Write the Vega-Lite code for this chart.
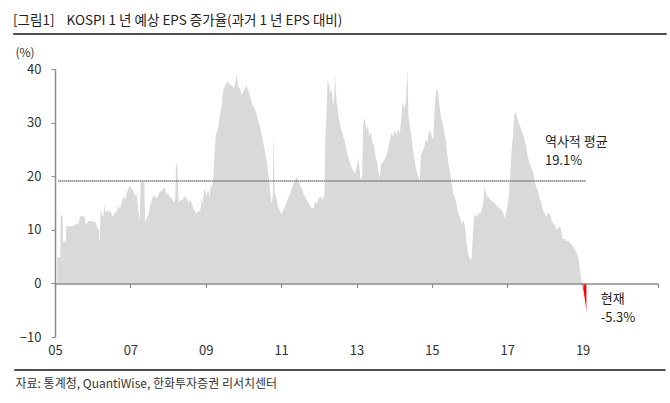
{
"$schema": "https://vega.github.io/schema/vega-lite/v6.json",
"width": 603, "height": 268,
"autosize": {"type": "none"},
"padding": {"left": 55, "top": 69, "right": 12, "bottom": 66},
"background": "white",
"config": {"view": {"stroke": null}, "font": "Noto Sans CJK KR"},
"title": {"text": "[그림1]\u00a0\u00a0\u00a0\u00a0KOSPI 1 년 예상 EPS 증가율(과거 1 년 EPS 대비)", "anchor": "start", "frame": "group", "dx": -42, "dy": -2, "fontSize": 13.5, "fontWeight": "normal", "color": "#222", "font": "Noto Sans CJK KR"},
"layer": [
{"data": {"values": [
{"t":2005.06,"v":4.9,"s":"a"},{"t":2005.14,"v":4.9,"s":"a"},{"t":2005.15,"v":12.8,"s":"a"},{"t":2005.2,"v":12.6,"s":"a"},{"t":2005.21,"v":7.7,"s":"a"},{"t":2005.29,"v":7.8,"s":"a"},{"t":2005.3,"v":10.7,"s":"a"},{"t":2005.4,"v":10.6,"s":"a"},{"t":2005.52,"v":10.8,"s":"a"},{"t":2005.55,"v":11.1,"s":"a"},{"t":2005.63,"v":11.2,"s":"a"},{"t":2005.66,"v":12.4,"s":"a"},{"t":2005.72,"v":12.6,"s":"a"},{"t":2005.79,"v":12.3,"s":"a"},{"t":2005.81,"v":11.1,"s":"a"},{"t":2005.87,"v":11.4,"s":"a"},{"t":2005.9,"v":11.7,"s":"a"},{"t":2006.0,"v":11.6,"s":"a"},{"t":2006.07,"v":11.5,"s":"a"},{"t":2006.11,"v":10.6,"s":"a"},{"t":2006.17,"v":9.8,"s":"a"},{"t":2006.19,"v":7.4,"s":"a"},{"t":2006.21,"v":13.8,"s":"a"},{"t":2006.25,"v":12.8,"s":"a"},{"t":2006.28,"v":12.2,"s":"a"},{"t":2006.31,"v":14.8,"s":"a"},{"t":2006.33,"v":13.5,"s":"a"},{"t":2006.36,"v":13.2,"s":"a"},{"t":2006.39,"v":13.9,"s":"a"},{"t":2006.42,"v":13.2,"s":"a"},{"t":2006.46,"v":13.7,"s":"a"},{"t":2006.5,"v":12.9,"s":"a"},{"t":2006.55,"v":12.5,"s":"a"},{"t":2006.59,"v":13.4,"s":"a"},{"t":2006.63,"v":13.2,"s":"a"},{"t":2006.68,"v":14.4,"s":"a"},{"t":2006.72,"v":13.9,"s":"a"},{"t":2006.77,"v":15.2,"s":"a"},{"t":2006.82,"v":16.3,"s":"a"},{"t":2006.86,"v":15.6,"s":"a"},{"t":2006.9,"v":16.8,"s":"a"},{"t":2006.95,"v":17.7,"s":"a"},{"t":2007.0,"v":18.2,"s":"a"},{"t":2007.04,"v":17.6,"s":"a"},{"t":2007.08,"v":17.2,"s":"a"},{"t":2007.12,"v":16.4,"s":"a"},{"t":2007.17,"v":16.6,"s":"a"},{"t":2007.21,"v":13.5,"s":"a"},{"t":2007.25,"v":11.8,"s":"a"},{"t":2007.27,"v":18.9,"s":"a"},{"t":2007.37,"v":18.9,"s":"a"},{"t":2007.39,"v":11.5,"s":"a"},{"t":2007.43,"v":12.2,"s":"a"},{"t":2007.48,"v":12.8,"s":"a"},{"t":2007.52,"v":14.3,"s":"a"},{"t":2007.56,"v":15.4,"s":"a"},{"t":2007.6,"v":16.3,"s":"a"},{"t":2007.65,"v":16.2,"s":"a"},{"t":2007.7,"v":15.8,"s":"a"},{"t":2007.74,"v":16.5,"s":"a"},{"t":2007.79,"v":17.3,"s":"a"},{"t":2007.83,"v":17.1,"s":"a"},{"t":2007.88,"v":17.9,"s":"a"},{"t":2007.92,"v":17.7,"s":"a"},{"t":2007.96,"v":16.6,"s":"a"},{"t":2008.01,"v":16.8,"s":"a"},{"t":2008.05,"v":15.9,"s":"a"},{"t":2008.09,"v":16.1,"s":"a"},{"t":2008.14,"v":15.2,"s":"a"},{"t":2008.19,"v":15.4,"s":"a"},{"t":2008.21,"v":22.4,"s":"a"},{"t":2008.25,"v":21.8,"s":"a"},{"t":2008.28,"v":15.3,"s":"a"},{"t":2008.33,"v":15.5,"s":"a"},{"t":2008.38,"v":15.6,"s":"a"},{"t":2008.43,"v":16.2,"s":"a"},{"t":2008.49,"v":15.9,"s":"a"},{"t":2008.55,"v":15.0,"s":"a"},{"t":2008.6,"v":15.6,"s":"a"},{"t":2008.65,"v":14.4,"s":"a"},{"t":2008.7,"v":13.6,"s":"a"},{"t":2008.76,"v":13.0,"s":"a"},{"t":2008.8,"v":13.5,"s":"a"},{"t":2008.85,"v":13.4,"s":"a"},{"t":2008.89,"v":15.6,"s":"a"},{"t":2008.92,"v":14.8,"s":"a"},{"t":2008.95,"v":17.2,"s":"a"},{"t":2008.98,"v":17.7,"s":"a"},{"t":2009.02,"v":16.3,"s":"a"},{"t":2009.06,"v":17.5,"s":"a"},{"t":2009.1,"v":16.2,"s":"a"},{"t":2009.14,"v":18.6,"s":"a"},{"t":2009.17,"v":17.8,"s":"a"},{"t":2009.2,"v":19.4,"s":"a"},{"t":2009.23,"v":23.8,"s":"a"},{"t":2009.27,"v":27.9,"s":"a"},{"t":2009.3,"v":28.2,"s":"a"},{"t":2009.33,"v":29.0,"s":"a"},{"t":2009.37,"v":31.2,"s":"a"},{"t":2009.42,"v":33.1,"s":"a"},{"t":2009.46,"v":35.9,"s":"a"},{"t":2009.5,"v":36.7,"s":"a"},{"t":2009.55,"v":37.4,"s":"a"},{"t":2009.6,"v":37.6,"s":"a"},{"t":2009.64,"v":36.9,"s":"a"},{"t":2009.69,"v":37.1,"s":"a"},{"t":2009.74,"v":36.4,"s":"a"},{"t":2009.78,"v":37.3,"s":"a"},{"t":2009.82,"v":38.9,"s":"a"},{"t":2009.86,"v":36.8,"s":"a"},{"t":2009.91,"v":36.2,"s":"a"},{"t":2009.95,"v":35.1,"s":"a"},{"t":2010.0,"v":35.8,"s":"a"},{"t":2010.04,"v":36.3,"s":"a"},{"t":2010.08,"v":36.9,"s":"a"},{"t":2010.13,"v":36.0,"s":"a"},{"t":2010.17,"v":35.0,"s":"a"},{"t":2010.22,"v":33.8,"s":"a"},{"t":2010.26,"v":33.0,"s":"a"},{"t":2010.31,"v":32.5,"s":"a"},{"t":2010.35,"v":31.5,"s":"a"},{"t":2010.4,"v":30.1,"s":"a"},{"t":2010.44,"v":29.3,"s":"a"},{"t":2010.49,"v":27.5,"s":"a"},{"t":2010.53,"v":26.1,"s":"a"},{"t":2010.58,"v":24.3,"s":"a"},{"t":2010.62,"v":22.8,"s":"a"},{"t":2010.66,"v":20.5,"s":"a"},{"t":2010.7,"v":18.0,"s":"a"},{"t":2010.74,"v":15.0,"s":"a"},{"t":2010.78,"v":16.0,"s":"a"},{"t":2010.8,"v":28.3,"s":"a"},{"t":2010.83,"v":17.0,"s":"a"},{"t":2010.87,"v":16.0,"s":"a"},{"t":2010.92,"v":14.3,"s":"a"},{"t":2010.96,"v":13.7,"s":"a"},{"t":2011.01,"v":12.9,"s":"a"},{"t":2011.05,"v":13.6,"s":"a"},{"t":2011.1,"v":14.3,"s":"a"},{"t":2011.15,"v":15.2,"s":"a"},{"t":2011.2,"v":16.2,"s":"a"},{"t":2011.25,"v":17.0,"s":"a"},{"t":2011.3,"v":18.1,"s":"a"},{"t":2011.36,"v":19.0,"s":"a"},{"t":2011.41,"v":19.9,"s":"a"},{"t":2011.46,"v":19.1,"s":"a"},{"t":2011.5,"v":18.3,"s":"a"},{"t":2011.55,"v":17.6,"s":"a"},{"t":2011.6,"v":16.7,"s":"a"},{"t":2011.65,"v":15.9,"s":"a"},{"t":2011.7,"v":15.3,"s":"a"},{"t":2011.76,"v":14.6,"s":"a"},{"t":2011.81,"v":14.0,"s":"a"},{"t":2011.86,"v":14.1,"s":"a"},{"t":2011.9,"v":15.2,"s":"a"},{"t":2011.95,"v":15.0,"s":"a"},{"t":2012.0,"v":15.9,"s":"a"},{"t":2012.05,"v":16.1,"s":"a"},{"t":2012.1,"v":15.6,"s":"a"},{"t":2012.15,"v":16.5,"s":"a"},{"t":2012.17,"v":26.7,"s":"a"},{"t":2012.2,"v":30.5,"s":"a"},{"t":2012.23,"v":37.8,"s":"a"},{"t":2012.27,"v":37.2,"s":"a"},{"t":2012.3,"v":35.5,"s":"a"},{"t":2012.34,"v":36.2,"s":"a"},{"t":2012.38,"v":33.0,"s":"a"},{"t":2012.41,"v":34.8,"s":"a"},{"t":2012.43,"v":39.2,"s":"a"},{"t":2012.45,"v":36.0,"s":"a"},{"t":2012.48,"v":33.5,"s":"a"},{"t":2012.52,"v":31.2,"s":"a"},{"t":2012.56,"v":29.9,"s":"a"},{"t":2012.6,"v":28.6,"s":"a"},{"t":2012.65,"v":27.4,"s":"a"},{"t":2012.69,"v":26.4,"s":"a"},{"t":2012.74,"v":24.6,"s":"a"},{"t":2012.79,"v":23.3,"s":"a"},{"t":2012.83,"v":22.5,"s":"a"},{"t":2012.88,"v":21.4,"s":"a"},{"t":2012.92,"v":20.9,"s":"a"},{"t":2012.96,"v":20.5,"s":"a"},{"t":2013.0,"v":21.5,"s":"a"},{"t":2013.04,"v":23.4,"s":"a"},{"t":2013.07,"v":22.0,"s":"a"},{"t":2013.11,"v":19.2,"s":"a"},{"t":2013.15,"v":20.0,"s":"a"},{"t":2013.18,"v":30.0,"s":"a"},{"t":2013.22,"v":30.8,"s":"a"},{"t":2013.26,"v":28.6,"s":"a"},{"t":2013.3,"v":29.3,"s":"a"},{"t":2013.34,"v":27.5,"s":"a"},{"t":2013.38,"v":28.3,"s":"a"},{"t":2013.42,"v":26.3,"s":"a"},{"t":2013.46,"v":25.8,"s":"a"},{"t":2013.5,"v":23.8,"s":"a"},{"t":2013.55,"v":22.5,"s":"a"},{"t":2013.59,"v":20.5,"s":"a"},{"t":2013.62,"v":19.8,"s":"a"},{"t":2013.65,"v":22.2,"s":"a"},{"t":2013.7,"v":22.6,"s":"a"},{"t":2013.75,"v":23.2,"s":"a"},{"t":2013.8,"v":24.0,"s":"a"},{"t":2013.85,"v":25.5,"s":"a"},{"t":2013.89,"v":26.7,"s":"a"},{"t":2013.93,"v":28.2,"s":"a"},{"t":2013.97,"v":27.4,"s":"a"},{"t":2014.02,"v":28.6,"s":"a"},{"t":2014.06,"v":27.6,"s":"a"},{"t":2014.1,"v":28.8,"s":"a"},{"t":2014.15,"v":27.9,"s":"a"},{"t":2014.19,"v":31.0,"s":"a"},{"t":2014.23,"v":33.7,"s":"a"},{"t":2014.27,"v":32.6,"s":"a"},{"t":2014.31,"v":34.0,"s":"a"},{"t":2014.35,"v":39.8,"s":"a"},{"t":2014.38,"v":31.0,"s":"a"},{"t":2014.42,"v":29.4,"s":"a"},{"t":2014.46,"v":27.1,"s":"a"},{"t":2014.5,"v":24.8,"s":"a"},{"t":2014.55,"v":22.6,"s":"a"},{"t":2014.59,"v":21.0,"s":"a"},{"t":2014.64,"v":19.8,"s":"a"},{"t":2014.68,"v":19.3,"s":"a"},{"t":2014.71,"v":24.0,"s":"a"},{"t":2014.75,"v":24.5,"s":"a"},{"t":2014.8,"v":25.6,"s":"a"},{"t":2014.84,"v":26.9,"s":"a"},{"t":2014.88,"v":26.2,"s":"a"},{"t":2014.92,"v":28.5,"s":"a"},{"t":2014.96,"v":28.3,"s":"a"},{"t":2015.0,"v":27.4,"s":"a"},{"t":2015.04,"v":26.9,"s":"a"},{"t":2015.08,"v":33.5,"s":"a"},{"t":2015.12,"v":36.3,"s":"a"},{"t":2015.16,"v":36.0,"s":"a"},{"t":2015.2,"v":33.2,"s":"a"},{"t":2015.24,"v":31.0,"s":"a"},{"t":2015.28,"v":30.2,"s":"a"},{"t":2015.32,"v":28.5,"s":"a"},{"t":2015.36,"v":27.1,"s":"a"},{"t":2015.4,"v":24.5,"s":"a"},{"t":2015.44,"v":22.3,"s":"a"},{"t":2015.48,"v":20.8,"s":"a"},{"t":2015.52,"v":18.7,"s":"a"},{"t":2015.57,"v":16.8,"s":"a"},{"t":2015.61,"v":16.1,"s":"a"},{"t":2015.66,"v":14.5,"s":"a"},{"t":2015.7,"v":13.0,"s":"a"},{"t":2015.75,"v":12.2,"s":"a"},{"t":2015.79,"v":11.2,"s":"a"},{"t":2015.84,"v":11.7,"s":"a"},{"t":2015.88,"v":10.5,"s":"a"},{"t":2015.92,"v":7.5,"s":"a"},{"t":2015.96,"v":5.6,"s":"a"},{"t":2016.01,"v":4.5,"s":"a"},{"t":2016.05,"v":4.4,"s":"a"},{"t":2016.08,"v":8.0,"s":"a"},{"t":2016.12,"v":12.4,"s":"a"},{"t":2016.16,"v":12.8,"s":"a"},{"t":2016.2,"v":12.5,"s":"a"},{"t":2016.24,"v":13.2,"s":"a"},{"t":2016.28,"v":13.0,"s":"a"},{"t":2016.32,"v":13.6,"s":"a"},{"t":2016.36,"v":14.8,"s":"a"},{"t":2016.39,"v":18.0,"s":"a"},{"t":2016.42,"v":17.2,"s":"a"},{"t":2016.46,"v":16.3,"s":"a"},{"t":2016.5,"v":16.1,"s":"a"},{"t":2016.54,"v":15.7,"s":"a"},{"t":2016.58,"v":15.4,"s":"a"},{"t":2016.63,"v":15.2,"s":"a"},{"t":2016.67,"v":14.9,"s":"a"},{"t":2016.72,"v":14.6,"s":"a"},{"t":2016.76,"v":14.2,"s":"a"},{"t":2016.8,"v":14.0,"s":"a"},{"t":2016.85,"v":13.7,"s":"a"},{"t":2016.89,"v":13.2,"s":"a"},{"t":2016.94,"v":12.1,"s":"a"},{"t":2016.98,"v":13.6,"s":"a"},{"t":2017.03,"v":15.5,"s":"a"},{"t":2017.07,"v":19.5,"s":"a"},{"t":2017.11,"v":24.3,"s":"a"},{"t":2017.15,"v":27.5,"s":"a"},{"t":2017.19,"v":31.5,"s":"a"},{"t":2017.22,"v":32.0,"s":"a"},{"t":2017.26,"v":31.0,"s":"a"},{"t":2017.3,"v":30.0,"s":"a"},{"t":2017.34,"v":29.3,"s":"a"},{"t":2017.38,"v":28.5,"s":"a"},{"t":2017.42,"v":27.8,"s":"a"},{"t":2017.46,"v":26.7,"s":"a"},{"t":2017.5,"v":25.5,"s":"a"},{"t":2017.55,"v":23.5,"s":"a"},{"t":2017.6,"v":22.2,"s":"a"},{"t":2017.64,"v":21.5,"s":"a"},{"t":2017.69,"v":20.6,"s":"a"},{"t":2017.73,"v":18.9,"s":"a"},{"t":2017.78,"v":17.8,"s":"a"},{"t":2017.82,"v":17.2,"s":"a"},{"t":2017.86,"v":16.0,"s":"a"},{"t":2017.9,"v":15.1,"s":"a"},{"t":2017.95,"v":13.6,"s":"a"},{"t":2017.99,"v":13.2,"s":"a"},{"t":2018.04,"v":12.5,"s":"a"},{"t":2018.08,"v":13.2,"s":"a"},{"t":2018.13,"v":12.9,"s":"a"},{"t":2018.17,"v":12.0,"s":"a"},{"t":2018.22,"v":11.2,"s":"a"},{"t":2018.26,"v":10.8,"s":"a"},{"t":2018.31,"v":10.0,"s":"a"},{"t":2018.35,"v":10.4,"s":"a"},{"t":2018.4,"v":10.6,"s":"a"},{"t":2018.44,"v":9.5,"s":"a"},{"t":2018.48,"v":8.2,"s":"a"},{"t":2018.53,"v":8.3,"s":"a"},{"t":2018.57,"v":7.9,"s":"a"},{"t":2018.62,"v":7.8,"s":"a"},{"t":2018.66,"v":7.7,"s":"a"},{"t":2018.7,"v":7.3,"s":"a"},{"t":2018.75,"v":6.8,"s":"a"},{"t":2018.8,"v":6.3,"s":"a"},{"t":2018.84,"v":5.6,"s":"a"},{"t":2018.88,"v":4.9,"s":"a"},{"t":2018.91,"v":3.6,"s":"a"},{"t":2018.94,"v":1.8,"s":"a"},{"t":2018.97,"v":0.6,"s":"a"},{"t":2018.99,"v":0,"s":"a"},
{"t":2018.99,"v":0,"s":"b"},{"t":2019.02,"v":-1.2,"s":"b"},{"t":2019.05,"v":-2.6,"s":"b"},{"t":2019.08,"v":-4.0,"s":"b"},{"t":2019.1,"v":-5.3,"s":"b"}
]},
 "mark": {"type": "area", "interpolate": "linear"},
 "encoding": {
  "x": {"field": "t", "type": "quantitative", "scale": {"domain": [2005, 2021], "nice": false, "zero": false},
    "axis": {"values": [2005, 2007, 2009, 2011, 2013, 2015, 2017, 2019, 2021], "labelExpr": "datum.value <= 2019 ? slice(toString(datum.value), 2, 4) : ''", "offset": -53.6, "labelPadding": 57, "tickSize": 4, "domainColor": "#8c8c8c", "tickColor": "#8c8c8c", "domainWidth": 1.5, "tickWidth": 1.2, "labelFontSize": 13, "labelColor": "#333", "labelFlush": false, "grid": false, "zindex": 1,
      "title": "자료: 통계청, QuantiWise, 한화투자증권 리서치센터", "titleX": -40, "titleY": 100, "titleAlign": "left", "titleAnchor": "start", "titleBaseline": "middle", "titleFontSize": 12, "titleFontWeight": "normal", "titleColor": "#333"}},
  "y": {"field": "v", "type": "quantitative", "stack": null, "scale": {"domain": [-10, 40], "nice": false},
    "axis": {"values": [-10, 0, 10, 20, 30, 40], "tickSize": 4, "labelPadding": 10, "domainColor": "#8c8c8c", "tickColor": "#8c8c8c", "domainWidth": 1.5, "labelFontSize": 13, "labelColor": "#333", "grid": false,
      "title": "(%)", "titleAngle": 0, "titleX": -40, "titleY": -17, "titleAlign": "left", "titleBaseline": "middle", "titleFontSize": 12, "titleFontWeight": "normal", "titleColor": "#333"}},
  "color": {"field": "s", "type": "nominal", "scale": {"domain": ["a", "b"], "range": ["#d9d9d9", "#ff0000"]}, "legend": null}
 }},
{"data": {"values": [{}]},
 "mark": {"type": "rule", "strokeDash": [1, 1], "strokeWidth": 2, "stroke": "#707070"},
 "encoding": {"x": {"datum": 2005.09, "type": "quantitative"}, "x2": {"datum": 2019.1}, "y": {"datum": 19.1, "type": "quantitative"}}},
{"data": {"values": [{}]},
 "mark": {"type": "rule", "strokeWidth": 1.5, "stroke": "#111"},
 "encoding": {"x": {"datum": 2003.89, "type": "quantitative"}, "x2": {"datum": 2021.23}, "y": {"datum": 46.53, "type": "quantitative"}}},
{"data": {"values": [{}]},
 "mark": {"type": "rule", "strokeWidth": 1.5, "stroke": "#111"},
 "encoding": {"x": {"datum": 2003.92, "type": "quantitative"}, "x2": {"datum": 2021.2}, "y": {"datum": -16.16, "type": "quantitative"}}},
{"data": {"values": [{}]},
 "mark": {"type": "text", "text": "역사적 평균", "align": "left", "baseline": "middle", "fontSize": 13, "fontWeight": "normal", "fill": "#222"},
 "encoding": {"x": {"datum": 2018.0, "type": "quantitative"}, "y": {"datum": 26.4, "type": "quantitative"}}},
{"data": {"values": [{}]},
 "mark": {"type": "text", "text": "19.1%", "align": "left", "baseline": "middle", "fontSize": 13, "fontWeight": "normal", "fill": "#222"},
 "encoding": {"x": {"datum": 2018.0, "type": "quantitative"}, "y": {"datum": 22.9, "type": "quantitative"}}},
{"data": {"values": [{}]},
 "mark": {"type": "text", "text": "현재", "align": "left", "baseline": "middle", "fontSize": 13, "fontWeight": "normal", "fill": "#222"},
 "encoding": {"x": {"datum": 2019.48, "type": "quantitative"}, "y": {"datum": -2.9, "type": "quantitative"}}},
{"data": {"values": [{}]},
 "mark": {"type": "text", "text": "-5.3%", "align": "left", "baseline": "middle", "fontSize": 13, "fontWeight": "normal", "fill": "#222"},
 "encoding": {"x": {"datum": 2019.48, "type": "quantitative"}, "y": {"datum": -6.5, "type": "quantitative"}}}
]
}
